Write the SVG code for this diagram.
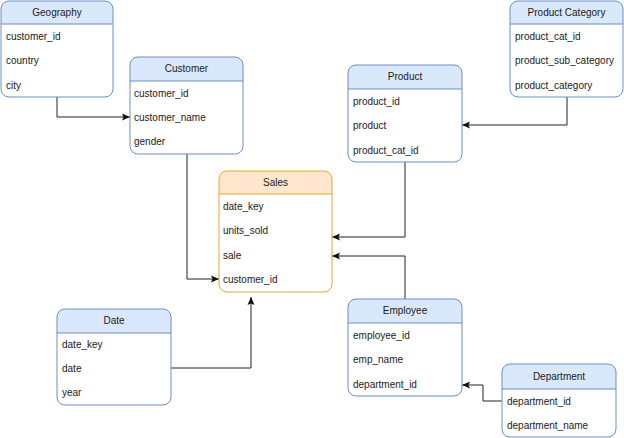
<svg xmlns="http://www.w3.org/2000/svg" width="624" height="438" viewBox="0 0 624 438">
<defs>
<style>
.body{fill:#ffffff;stroke:none}
.outline{fill:none;stroke:#6c8ebf;stroke-width:1}
.hdr{fill:#dae8fc;stroke:none}
.sep{stroke:#6c8ebf;stroke-width:1}
.s .outline,.s .sep{stroke:#e0aa2e}
.s .hdr{fill:#ffe6cc}
text{font-family:"Liberation Sans",Arial,sans-serif;font-size:10px;fill:#1a1a1a}
.title{text-anchor:middle}
.conn{fill:none;stroke:#222222;stroke-width:1;marker-end:url(#arr)}
</style>
<marker id="arr" markerUnits="userSpaceOnUse" markerWidth="10" markerHeight="10" viewBox="0 0 10 10" refX="9" refY="5" orient="auto">
<path d="M1,1.5 L9,5 L1,8.5 L2.5,5 Z" fill="#111111"/>
</marker>
</defs>
<rect width="624" height="438" fill="#ffffff"/>

<g id="connectors">
<path class="conn" d="M57,97 V117 H130"/>
<path class="conn" d="M567,97 V125 H462"/>
<path class="conn" d="M187,154 V279 H219"/>
<path class="conn" d="M405,162 V237 H332"/>
<path class="conn" d="M405,299 V256 H332"/>
<path class="conn" d="M171,368 H251 V297"/>
<path class="conn" d="M502,401 H483 V385 H462"/>
</g>

<g id="geography">
<rect class="body" x="1" y="1" width="112" height="96" rx="8"/>
<path class="hdr" d="M1,24 V9 A8,8 0 0 1 9,1 H105 A8,8 0 0 1 113,9 V24 Z"/>
<line class="sep" x1="1" y1="24" x2="113" y2="24"/>
<rect class="outline" x="1" y="1" width="112" height="96" rx="8"/>
<text class="title" x="57" y="16">Geography</text>
<text x="6" y="40">customer_id</text>
<text x="6" y="64">country</text>
<text x="6" y="89">city</text>
</g>

<g id="customer">
<rect class="body" x="130" y="57" width="113" height="97" rx="8"/>
<path class="hdr" d="M130,81 V65 A8,8 0 0 1 138,57 H235 A8,8 0 0 1 243,65 V81 Z"/>
<line class="sep" x1="130" y1="81" x2="243" y2="81"/>
<rect class="outline" x="130" y="57" width="113" height="97" rx="8"/>
<text class="title" x="186.5" y="72">Customer</text>
<text x="134" y="96.5">customer_id</text>
<text x="134" y="120.5">customer_name</text>
<text x="134" y="144.5">gender</text>
</g>

<g id="product-category">
<rect class="body" x="510" y="1" width="113" height="96" rx="8"/>
<path class="hdr" d="M510,24 V9 A8,8 0 0 1 518,1 H615 A8,8 0 0 1 623,9 V24 Z"/>
<line class="sep" x1="510" y1="24" x2="623" y2="24"/>
<rect class="outline" x="510" y="1" width="113" height="96" rx="8"/>
<text class="title" x="566.5" y="16">Product Category</text>
<text x="515" y="40">product_cat_id</text>
<text x="515" y="64">product_sub_category</text>
<text x="515" y="89">product_category</text>
</g>

<g id="product">
<rect class="body" x="348" y="65" width="114" height="97" rx="8"/>
<path class="hdr" d="M348,89 V73 A8,8 0 0 1 356,65 H454 A8,8 0 0 1 462,73 V89 Z"/>
<line class="sep" x1="348" y1="89" x2="462" y2="89"/>
<rect class="outline" x="348" y="65" width="114" height="97" rx="8"/>
<text class="title" x="405" y="80">Product</text>
<text x="353" y="104.5">product_id</text>
<text x="353" y="128.5">product</text>
<text x="353" y="153.5">product_cat_id</text>
</g>

<g id="sales" class="s">
<rect class="body" x="219" y="171" width="113" height="121" rx="8"/>
<path class="hdr" d="M219,194 V179 A8,8 0 0 1 227,171 H324 A8,8 0 0 1 332,179 V194 Z"/>
<line class="sep" x1="219" y1="194" x2="332" y2="194"/>
<rect class="outline" x="219" y="171" width="113" height="121" rx="8"/>
<text class="title" x="275.5" y="186">Sales</text>
<text x="223" y="209.5">date_key</text>
<text x="223" y="233.5">units_sold</text>
<text x="223" y="258.5">sale</text>
<text x="223" y="282.5">customer_id</text>
</g>

<g id="date">
<rect class="body" x="57" y="309" width="114" height="96" rx="8"/>
<path class="hdr" d="M57,333 V317 A8,8 0 0 1 65,309 H163 A8,8 0 0 1 171,317 V333 Z"/>
<line class="sep" x1="57" y1="333" x2="171" y2="333"/>
<rect class="outline" x="57" y="309" width="114" height="96" rx="8"/>
<text class="title" x="114" y="324">Date</text>
<text x="62" y="347.5">date_key</text>
<text x="62" y="371.5">date</text>
<text x="62" y="395.5">year</text>
</g>

<g id="employee">
<rect class="body" x="348" y="299" width="114" height="97" rx="8"/>
<path class="hdr" d="M348,323 V307 A8,8 0 0 1 356,299 H454 A8,8 0 0 1 462,307 V323 Z"/>
<line class="sep" x1="348" y1="323" x2="462" y2="323"/>
<rect class="outline" x="348" y="299" width="114" height="97" rx="8"/>
<text class="title" x="405" y="314">Employee</text>
<text x="353" y="338.5">employee_id</text>
<text x="353" y="362.5">emp_name</text>
<text x="353" y="387.5">department_id</text>
</g>

<g id="department">
<rect class="body" x="502" y="364" width="114" height="73" rx="8"/>
<path class="hdr" d="M502,389 V372 A8,8 0 0 1 510,364 H608 A8,8 0 0 1 616,372 V389 Z"/>
<line class="sep" x1="502" y1="389" x2="616" y2="389"/>
<rect class="outline" x="502" y="364" width="114" height="73" rx="8"/>
<text class="title" x="559" y="380">Department</text>
<text x="507" y="404.5">department_id</text>
<text x="507" y="428.5">department_name</text>
</g>
</svg>
